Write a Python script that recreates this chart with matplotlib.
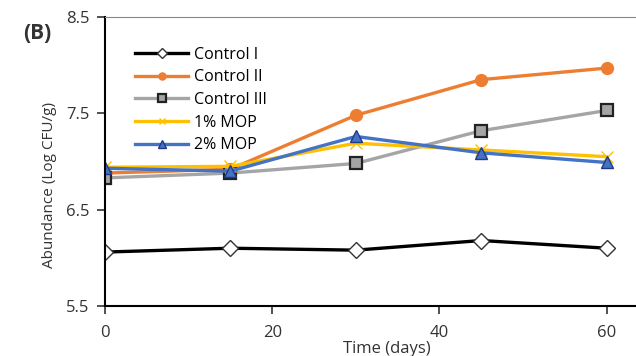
import matplotlib.pyplot as plt

# data
days = [0, 15, 30, 45, 60]
control_1 = [6.06, 6.10, 6.08, 6.18, 6.10]
control_2 = [6.88, 6.92, 7.48, 7.85, 7.97]
control_3 = [6.83, 6.88, 6.98, 7.32, 7.53]
mop_1 = [6.94, 6.95, 7.19, 7.12, 7.05]
mop_2 = [6.93, 6.90, 7.26, 7.09, 6.99]
labels = ['Control I', 'Control II', 'Control III', '1% MOP', '2% MOP']
yticks = [5.5, 6.5, 7.5, 8.5]
xticks = [0, 20, 40, 60]

plt.rcParams['font.family'] = ['Open Sans', 'DejaVu Sans']

fig = plt.figure(figsize=(6.36, 3.56), dpi=100)
ax = fig.add_axes([0.165, 0.1404, 0.835, 0.8118])

ax.plot(days, control_1, color='black', lw=2.4, marker='D', ms=8.5,
        mfc='white', mec='#333333', mew=1, label=labels[0])
ax.plot(days, control_2, color='#ED7D31', lw=2.4, marker='o', ms=8.5,
        mfc='#ED7D31', mec='#ED7D31', label=labels[1])
ax.plot(days, control_3, color='#A5A5A5', lw=2.4, marker='s', ms=9,
        mfc='#A5A5A5', mec='#222222', mew=1.6, label=labels[2])
ax.plot(days, mop_1, color='#FFC000', lw=2.4, marker='x', ms=8,
        mec='#FFC000', label=labels[3])
ax.plot(days, mop_2, color='#4472C4', lw=2.4, marker='^', ms=8.5,
        mfc='#4472C4', mec='#1F3A8A', label=labels[4])

ax.set_xlim(0, 63.5)
ax.set_ylim(5.5, 8.5)
ax.set_xticks(xticks)
ax.set_yticks(yticks)
ax.tick_params(direction='out', length=6, width=1.2, labelsize=12, colors='#333333')
ax.tick_params(axis='x', pad=8)
ax.tick_params(axis='y', pad=5)

ax.spines['right'].set_visible(False)
ax.spines['top'].set_color('#888888')
ax.spines['left'].set_linewidth(1.5)
ax.spines['bottom'].set_linewidth(1.5)

ax.set_xlabel('Time (days)', fontsize=12, color='#333333')
ax.xaxis.set_label_coords(0.53, -0.12)
ax.set_ylabel('Abundance (Log CFU/g)', fontsize=11, color='#333333')
ax.yaxis.set_label_coords(-0.09, 0.42)

fig.text(0.036, 0.906, '(B)', fontsize=15, fontweight='bold', color='#333333', va='center')

ax.legend(loc='upper left', bbox_to_anchor=(0.045, 0.92), frameon=False,
          fontsize=11.5, handlelength=3.3, labelspacing=0.42, handletextpad=0.4,
          markerscale=0.6, borderaxespad=0)

fig.savefig('out.png', dpi=100)
